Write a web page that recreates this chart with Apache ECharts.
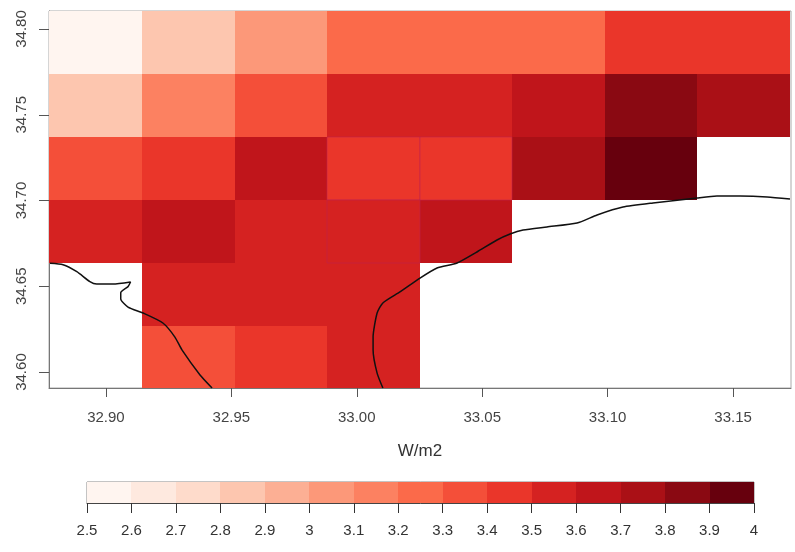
<!DOCTYPE html>
<html>
<head>
<meta charset="utf-8">
<style>html,body{margin:0;padding:0;background:#fff}#c{width:795px;height:552px}</style>
<script src="https://cdn.jsdelivr.net/npm/echarts@6/dist/echarts.min.js"></script>
</head>
<body>
<div id="c"></div>
<script>
const lonCenters = [32.8959, 32.9328, 32.9697, 33.0066, 33.0435, 33.0804, 33.1173, 33.1542];
const latCenters = [34.7921, 34.7554, 34.7187, 34.6820, 34.6453, 34.6086];
const row1 = [2.55, 2.85, 3.05, 3.25, 3.25, 3.25, 3.45, 3.45];
const row2 = [2.85, 3.15, 3.35, 3.55, 3.55, 3.65, 3.85, 3.75];
const row3 = [3.35, 3.45, 3.65, 3.45, 3.45, 3.75, 3.95, null];
const row4 = [3.55, 3.65, 3.55, 3.55, 3.65, null, null, null];
const row5 = [null, 3.55, 3.55, 3.55, null, null, null, null];
const row6 = [null, 3.35, 3.45, 3.55, null, null, null, null];
const rows = [row1, row2, row3, row4, row5, row6];
const outlinedCells = [[3, 2], [4, 2], [3, 3]];
const classBreaks = [2.5,2.6,2.7,2.8,2.9,3.0,3.1,3.2,3.3,3.4,3.5,3.6,3.7,3.8,3.9,4.0];
const classColors = ['#FFF5F0','#FEE9DF','#FEDBCB','#FDC6AF','#FCAF94','#FC9879','#FC8161','#FB6A4A',
  '#F44F39','#EA362A','#D52221','#C0151B','#AA1016','#8A0912','#67000D'];
const xTicks = [32.90, 32.95, 33.00, 33.05, 33.10, 33.15];
const yTicks = [34.60, 34.65, 34.70, 34.75, 34.80];
const coastWest = [[32.8777,34.6634],[32.8829,34.6626],[32.8884,34.6585],[32.8936,34.6527],[32.8963,34.6513],
  [32.9028,34.6513],[32.9098,34.6525],[32.9088,34.6498],[32.9059,34.6463],[32.9059,34.6426],[32.9088,34.6379],
  [32.9148,34.6344],[32.9227,34.6286],[32.9275,34.6204],[32.9303,34.6129],[32.9375,34.5983],[32.9423,34.5907]];
const coastEast = [[33.0104,34.5907],[33.0081,34.5994],[33.0065,34.6129],[33.0065,34.6204],[33.0081,34.6344],
  [33.0104,34.6403],[33.0172,34.6467],[33.0252,34.6548],[33.0320,34.6607],[33.0400,34.6636],[33.0479,34.6700],
  [33.0559,34.6770],[33.0611,34.6805],[33.0663,34.6828],[33.0758,34.6846],[33.0878,34.6869],[33.0958,34.6916],
  [33.1061,34.6962],[33.1181,34.6986],[33.1356,34.7015],[33.1436,34.7026],[33.1528,34.7026],[33.1636,34.7021],[33.1727,34.7009]];
const cellW = 0.0369, cellH = 0.0367;

const cells = [];
rows.forEach((r, j) => r.forEach((v, i) => {
  if (v !== null) cells.push([lonCenters[i], latCenters[j], v, outlinedCells.some(o => o[0] === i && o[1] === j) ? 1 : 0]);
}));
const legendCells = classColors.map((c, i) => [classBreaks[i], classBreaks[i + 1], i]);
const colorOf = v => classColors[Math.min(classColors.length - 1, Math.floor((v - 2.5) / 0.1))];
const txt = '#444';
const font = 'Liberation Sans';

function rectFrom(p0, p1, fill, stroke) {
  const x0 = Math.round(p0[0]), x1 = Math.round(p1[0]), y0 = Math.round(p0[1]), y1 = Math.round(p1[1]);
  const style = {fill: fill};
  if (stroke) { style.stroke = stroke; style.lineWidth = 1; }
  return {type: 'rect', z2: stroke ? 5 : 1, shape: {x: x0, y: y0, width: x1 - x0, height: y1 - y0}, style: style};
}

const chart = echarts.init(document.getElementById('c'), null, {renderer: 'canvas'});
chart.setOption({
  animation: false,
  backgroundColor: '#fff',
  grid: [
    {left: 49, top: 11, width: 742, height: 377, show: true, borderColor: '#aaa', borderWidth: 1, backgroundColor: 'transparent'},
    {left: 87, top: 482, width: 667, height: 21, show: true, borderColor: '#888', borderWidth: 1, backgroundColor: 'transparent'}
  ],
  xAxis: [
    {type: 'value', gridIndex: 0, min: 32.8773, max: 33.1731, splitLine: {show: false},
     name: 'W/m2', nameLocation: 'middle', nameGap: 55,
     nameTextStyle: {fontFamily: font, fontSize: 17, color: '#333'},
     axisLine: {show: true, onZero: false, lineStyle: {color: '#777'}},
     axisTick: {show: true, length: 9, customValues: xTicks, lineStyle: {color: '#555'}},
     axisLabel: {show: true, customValues: xTicks, margin: 22, fontFamily: font, fontSize: 15, color: txt,
       formatter: v => v.toFixed(2)}},
    {type: 'value', gridIndex: 1, min: 2.5, max: 4, interval: 0.1, splitLine: {show: false},
     axisLine: {show: true, onZero: false, lineStyle: {color: '#444'}},
     axisTick: {show: true, length: 10, lineStyle: {color: '#333'}},
     axisLabel: {show: true, margin: 20, fontFamily: font, fontSize: 15, color: '#333', hideOverlap: false,
       showMinLabel: true, showMaxLabel: true, formatter: v => String(Math.round(v * 10) / 10)}}
  ],
  yAxis: [
    {type: 'value', gridIndex: 0, min: 34.5907, max: 34.8105, splitLine: {show: false},
     axisLine: {show: true, onZero: false, lineStyle: {color: '#777'}},
     axisTick: {show: true, length: 10, customValues: yTicks, lineStyle: {color: '#555'}},
     axisLabel: {show: true, customValues: yTicks, rotate: 90, margin: 20, fontFamily: font, fontSize: 15, color: txt,
       formatter: v => v.toFixed(2)}},
    {type: 'value', gridIndex: 1, min: 0, max: 1, show: false}
  ],
  series: [
    {type: 'custom', xAxisIndex: 0, yAxisIndex: 0, clip: true, data: cells, z: 2,
     encode: {x: 0, y: 1},
     renderItem: (params, api) => {
       const lon = api.value(0), lat = api.value(1);
       const p0 = api.coord([lon - cellW / 2, lat + cellH / 2]);
       const p1 = api.coord([lon + cellW / 2, lat - cellH / 2]);
       return rectFrom(p0, p1, colorOf(api.value(2)), api.value(3) ? 'rgba(190,35,80,0.55)' : null);
     }},
    {type: 'line', xAxisIndex: 0, yAxisIndex: 0, data: coastWest, showSymbol: false, z: 5, smooth: 0.2,
     lineStyle: {color: '#111', width: 1.5}},
    {type: 'line', xAxisIndex: 0, yAxisIndex: 0, data: coastEast, showSymbol: false, z: 5, smooth: 0.2,
     lineStyle: {color: '#111', width: 1.5}},
    {type: 'custom', xAxisIndex: 1, yAxisIndex: 1, data: legendCells, z: 2,
     encode: {x: [0, 1]},
     renderItem: (params, api) => {
       const p0 = api.coord([api.value(0), 1]);
       const p1 = api.coord([api.value(1), 0]);
       return rectFrom(p0, p1, classColors[api.value(2)]);
     }}
  ]
});
</script>
</body>
</html>
